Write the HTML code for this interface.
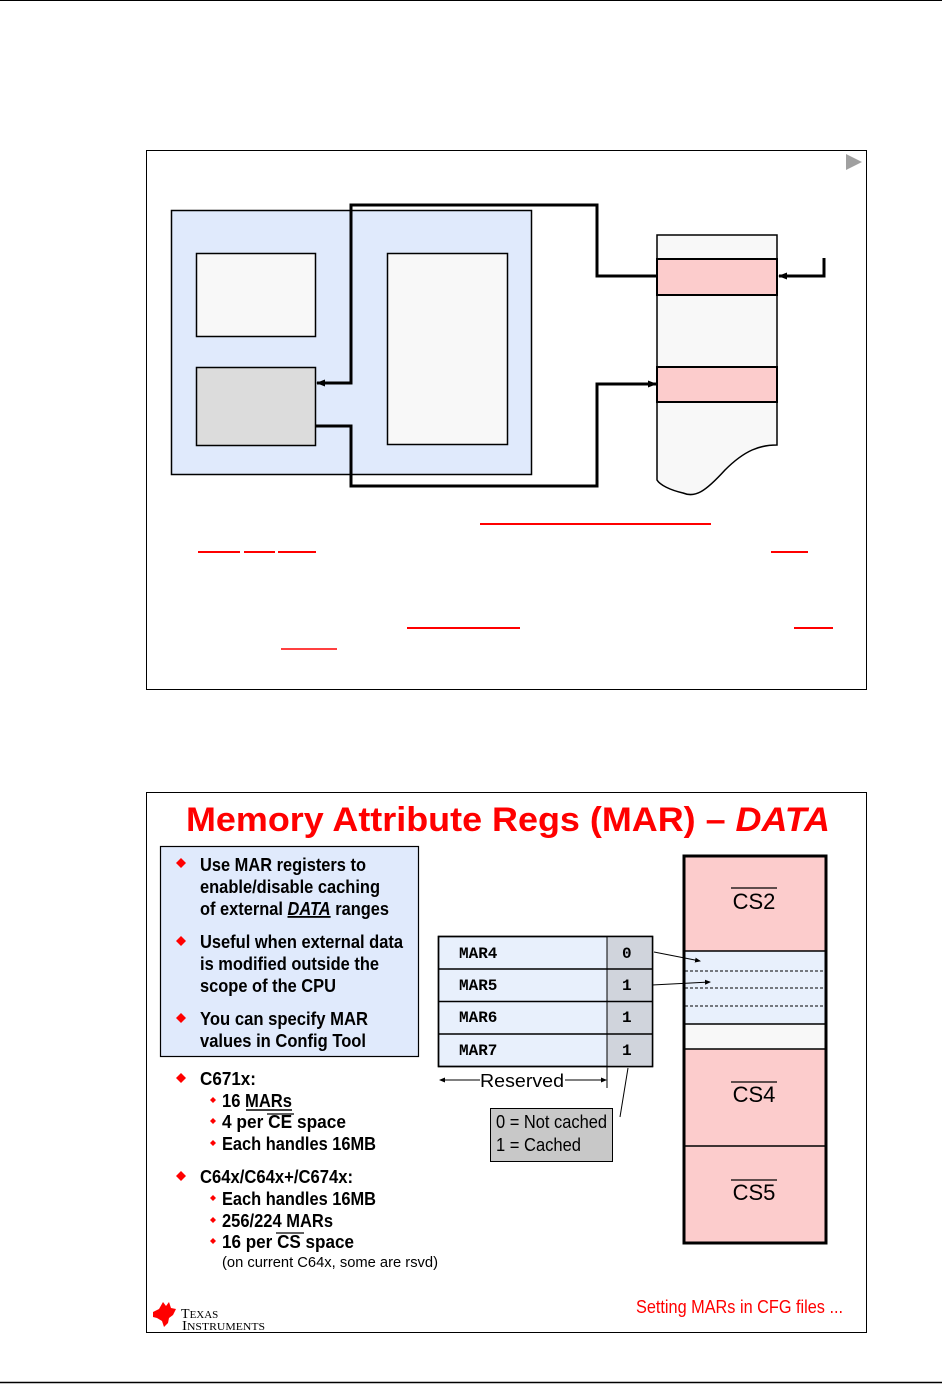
<!DOCTYPE html>
<html><head><meta charset="utf-8"><style>
html,body{margin:0;padding:0;background:#fff;width:942px;height:1384px;overflow:hidden}
svg{display:block}
.n{font-family:"Liberation Sans Narrow","Liberation Sans",sans-serif;font-weight:bold;font-size:18px;fill:#000}
.m{font-family:"Liberation Mono",monospace;font-weight:bold;font-size:16px}
</style></head><body>
<svg width="942" height="1384" xmlns="http://www.w3.org/2000/svg">
<defs>
<marker id="ah" markerWidth="9" markerHeight="9" refX="8" refY="4.5" orient="auto" markerUnits="userSpaceOnUse"><path d="M0,1 L9,4.5 L0,8 z" fill="#000"/></marker>
<marker id="as" markerWidth="6" markerHeight="6" refX="5" refY="3" orient="auto" markerUnits="userSpaceOnUse"><path d="M0,0.5 L6,3 L0,5.5 z" fill="#000"/></marker>
</defs>
<line x1="0" y1="0.5" x2="942" y2="0.5" stroke="#000" stroke-width="1"/>
<line x1="0" y1="1382.5" x2="942" y2="1382.5" stroke="#000" stroke-width="1.5"/>

<!-- top slide -->
<rect x="146.5" y="150.5" width="720" height="539" fill="#fff" stroke="#000"/>
<path d="M846,154 L862,162 L846,170 z" fill="#a0a0a0"/>
<rect x="171.5" y="210.5" width="360" height="264" fill="#e0eafc" stroke="#000" stroke-width="1.5"/>
<rect x="196.5" y="253.5" width="119" height="83" fill="#f8f8f8" stroke="#000" stroke-width="1.5"/>
<rect x="196.5" y="367.5" width="119" height="78" fill="#dcdcdc" stroke="#000" stroke-width="1.5"/>
<rect x="387.5" y="253.5" width="120" height="191" fill="#f8f8f8" stroke="#000" stroke-width="1.5"/>
<path d="M657,276 L597,276 L597,205 L351,205 L351,383 L317,383" fill="none" stroke="#000" stroke-width="3" marker-end="url(#ah)"/>
<path d="M315,426 L351,426 L351,486 L597,486 L597,384 L656,384" fill="none" stroke="#000" stroke-width="3" marker-end="url(#ah)"/>
<path d="M657,235 L777,235 L777,445 C760,445 745,450 725,470 C705,492 695,498 683,493 C670,490 660,485 657,480 Z" fill="#f8f8f8" stroke="#000" stroke-width="1.5"/>
<rect x="657" y="259" width="120" height="36" fill="#fccccc" stroke="#000" stroke-width="2"/>
<rect x="657" y="367" width="120" height="35" fill="#fccccc" stroke="#000" stroke-width="2"/>
<path d="M824,258 L824,276 L779,276" fill="none" stroke="#000" stroke-width="3" marker-end="url(#ah)"/>
<g stroke="#f00" stroke-width="2">
<line x1="480" y1="524" x2="711" y2="524"/>
<line x1="198" y1="552" x2="240" y2="552"/><line x1="244" y1="552" x2="275" y2="552"/><line x1="278" y1="552" x2="316" y2="552"/>
<line x1="771" y1="552" x2="808" y2="552"/>
<line x1="407" y1="628" x2="520" y2="628"/><line x1="794" y1="628" x2="833" y2="628"/>
<line x1="281" y1="649" x2="337" y2="649" stroke-width="1.5"/>
</g>

<!-- bottom slide -->
<rect x="146.5" y="792.5" width="720" height="540" fill="#fff" stroke="#000"/>
<text x="186" y="831" font-family="Liberation Sans,sans-serif" font-weight="bold" font-size="34" fill="#f00" textLength="644" lengthAdjust="spacingAndGlyphs">Memory Attribute Regs (MAR) – <tspan font-style="italic">DATA</tspan></text>
<rect x="160.5" y="846.5" width="258" height="210" fill="#e0eafc" stroke="#000" stroke-width="1.2"/>
<g fill="#f00">
<path d="M181,858 l5,5 l-5,5 l-5,-5z"/><path d="M181,936 l5,5 l-5,5 l-5,-5z"/><path d="M181,1013 l5,5 l-5,5 l-5,-5z"/>
<path d="M181,1073 l5,5 l-5,5 l-5,-5z"/><path d="M181,1171 l5,5 l-5,5 l-5,-5z"/>
<path d="M213,1097 l3,3 l-3,3 l-3,-3z"/><path d="M213,1118 l3,3 l-3,3 l-3,-3z"/><path d="M213,1140 l3,3 l-3,3 l-3,-3z"/>
<path d="M213,1195 l3,3 l-3,3 l-3,-3z"/><path d="M213,1217 l3,3 l-3,3 l-3,-3z"/><path d="M213,1238 l3,3 l-3,3 l-3,-3z"/>
</g>
<g>
<text x="200" y="871" class="n" textLength="166" lengthAdjust="spacingAndGlyphs">Use MAR registers to</text>
<text x="200" y="893" class="n" textLength="180" lengthAdjust="spacingAndGlyphs">enable/disable caching</text>
<text x="200" y="915" class="n" textLength="189" lengthAdjust="spacingAndGlyphs">of external <tspan font-style="italic" text-decoration="underline">DATA</tspan> ranges</text>
<text x="200" y="948" class="n" textLength="203" lengthAdjust="spacingAndGlyphs">Useful when external data</text>
<text x="200" y="970" class="n" textLength="179" lengthAdjust="spacingAndGlyphs">is modified outside the</text>
<text x="200" y="992" class="n" textLength="136" lengthAdjust="spacingAndGlyphs">scope of the CPU</text>
<text x="200" y="1025" class="n" textLength="168" lengthAdjust="spacingAndGlyphs">You can specify MAR</text>
<text x="200" y="1047" class="n" textLength="166" lengthAdjust="spacingAndGlyphs">values in Config Tool</text>
<text x="200" y="1085" class="n" textLength="56" lengthAdjust="spacingAndGlyphs">C671x:</text>
<text x="222" y="1107" class="n" textLength="70" lengthAdjust="spacingAndGlyphs">16 MARs</text>
<text x="222" y="1128" class="n" textLength="124" lengthAdjust="spacingAndGlyphs">4 per CE space</text>
<text x="222" y="1150" class="n" textLength="154" lengthAdjust="spacingAndGlyphs">Each handles 16MB</text>
<text x="200" y="1183" class="n" textLength="153" lengthAdjust="spacingAndGlyphs">C64x/C64x+/C674x:</text>
<text x="222" y="1205" class="n" textLength="154" lengthAdjust="spacingAndGlyphs">Each handles 16MB</text>
<text x="222" y="1227" class="n" textLength="111" lengthAdjust="spacingAndGlyphs">256/224 MARs</text>
<text x="222" y="1248" class="n" textLength="132" lengthAdjust="spacingAndGlyphs">16 per CS space</text>
<text x="222" y="1267" font-family="Liberation Sans Narrow,Liberation Sans,sans-serif" font-size="15" textLength="216" lengthAdjust="spacingAndGlyphs">(on current C64x, some are rsvd)</text>
</g>
<line x1="246" y1="1110" x2="292" y2="1110" stroke="#000" stroke-width="1.5"/>
<line x1="267" y1="1114" x2="294" y2="1114" stroke="#000" stroke-width="1.2"/>
<line x1="276" y1="1233" x2="304" y2="1233" stroke="#000" stroke-width="1.2"/>

<!-- MAR table -->
<rect x="438.5" y="936.5" width="214" height="130" fill="#e8f0fc" stroke="#000" stroke-width="1.5"/>
<rect x="607" y="937" width="45" height="129" fill="#d0d4dc"/>
<g stroke="#000" stroke-width="1.5">
<line x1="438" y1="969" x2="653" y2="969"/><line x1="438" y1="1001.5" x2="653" y2="1001.5"/><line x1="438" y1="1034" x2="653" y2="1034"/>
<line x1="607" y1="936" x2="607" y2="1088" stroke-width="1"/>
<rect x="438.5" y="936.5" width="214" height="130" fill="none"/>
</g>
<g class="m">
<text x="459" y="958">MAR4</text><text x="459" y="990">MAR5</text><text x="459" y="1022">MAR6</text><text x="459" y="1055">MAR7</text>
<text x="622" y="958">0</text><text x="622" y="990">1</text><text x="622" y="1022">1</text><text x="622" y="1055">1</text>
</g>
<line x1="480" y1="1080" x2="440" y2="1080" stroke="#000" marker-end="url(#as)"/>
<line x1="565" y1="1080" x2="606" y2="1080" stroke="#000" marker-end="url(#as)"/>
<text x="480" y="1087" font-family="Liberation Sans,sans-serif" font-size="18" textLength="84" lengthAdjust="spacingAndGlyphs">Reserved</text>
<line x1="628" y1="1068" x2="620" y2="1117" stroke="#000"/>
<rect x="490.5" y="1108.5" width="122" height="53" fill="#c8c8c8" stroke="#000"/>
<g font-family="Liberation Sans Narrow,Liberation Sans,sans-serif" font-size="18">
<text x="496" y="1128" textLength="111" lengthAdjust="spacingAndGlyphs">0 = Not cached</text>
<text x="496" y="1151" textLength="85" lengthAdjust="spacingAndGlyphs">1 = Cached</text>
</g>

<!-- memory column -->
<rect x="684" y="856" width="142" height="387" fill="#fccccc"/>
<rect x="684" y="951" width="142" height="73" fill="#e8f0fc"/>
<rect x="684" y="1024" width="142" height="25" fill="#f8f8f8"/>
<g stroke="#000" stroke-dasharray="3,2" stroke-width="1"><line x1="685" y1="971" x2="825" y2="971"/><line x1="685" y1="988" x2="825" y2="988"/><line x1="685" y1="1006" x2="825" y2="1006"/></g>
<g stroke="#000" stroke-width="1.5"><line x1="684" y1="951" x2="826" y2="951"/><line x1="684" y1="1024" x2="826" y2="1024"/><line x1="684" y1="1049" x2="826" y2="1049"/><line x1="684" y1="1146" x2="826" y2="1146"/></g>
<rect x="684" y="856" width="142" height="387" fill="none" stroke="#000" stroke-width="3"/>
<g font-family="Liberation Sans,sans-serif" font-size="22" text-anchor="middle">
<text x="754" y="909">CS2</text><text x="754" y="1102">CS4</text><text x="754" y="1200">CS5</text>
</g>
<g stroke="#000" stroke-width="1.2"><line x1="731" y1="888" x2="777" y2="888"/><line x1="731" y1="1082" x2="777" y2="1082"/><line x1="731" y1="1180" x2="777" y2="1180"/></g>
<line x1="654" y1="952" x2="700" y2="961" stroke="#000" marker-end="url(#as)"/>
<line x1="652" y1="985" x2="710" y2="982" stroke="#000" marker-end="url(#as)"/>

<!-- footer -->
<path d="M153,1312 l6,-3 l4,-7 l3,4 l3,-4 l2,6 l5,1 l-3,6 l-4,3 l-1,5 l-4,4 l-2,-6 l-5,-3 l-4,-1z" fill="#f00"/>
<text x="181" y="1318" font-family="Liberation Serif,serif" font-size="14">T<tspan font-size="11">EXAS</tspan></text>
<text x="182" y="1330" font-family="Liberation Serif,serif" font-size="14" textLength="83" lengthAdjust="spacingAndGlyphs">I<tspan font-size="11">NSTRUMENTS</tspan></text>
<text x="636" y="1313" font-family="Liberation Sans Narrow,Liberation Sans,sans-serif" font-size="18" fill="#f00" textLength="207" lengthAdjust="spacingAndGlyphs">Setting MARs in CFG files ...</text>
</svg>
</body></html>
